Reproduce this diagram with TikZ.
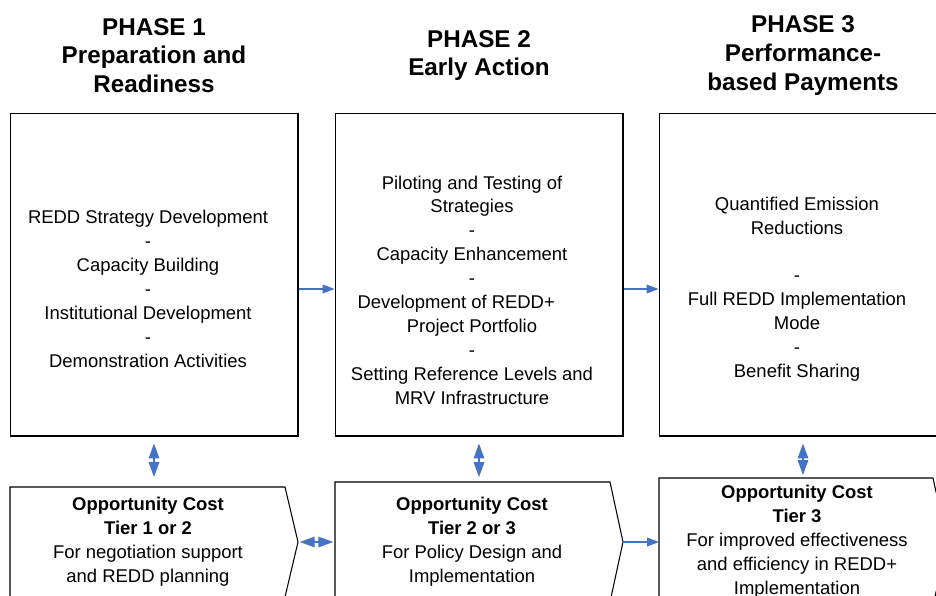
\documentclass[tikz,border=0pt]{standalone}
\usepackage{fontspec}
\setmainfont{Liberation Sans}
\usetikzlibrary{arrows.meta}
\definecolor{linkblue}{RGB}{68,114,196}

\begin{document}
\begin{tikzpicture}
[   x=0.02cm, y=-0.02cm,
    phase/.style={font=\bfseries\fontsize{13.8}{16.4}\selectfont,align=center},
    pbox/.style={draw=black,line width=0.6pt,minimum width=5.76cm,minimum height=6.46cm,inner sep=0pt},
    ptext/.style={font=\fontsize{10.5}{13.6}\selectfont,align=center},
    cbox/.style={draw=black,line width=0.6pt},
    link/.style={draw=linkblue,line width=0.6pt,-{Triangle[length=6.8pt,width=5pt]}},
    dlink/.style={draw=linkblue,line width=0.8pt,{Triangle[length=8.5pt,width=6pt]}-{Triangle[length=8.5pt,width=6pt]}},
]
    \useasboundingbox (0,0) rectangle (936,595);
    \clip (0,0) rectangle (936,595);
    %
    \node[phase] (h1) at (154,55.5) {PHASE 1\\Preparation and\\Readiness};
    \node[phase] (h2) at (479,55.5) {PHASE 2\\Early Action};
    \node[phase] (h3) at (803,55.5) {PHASE 3\\Performance-\\based Payments};

    \node[pbox] (p1) at (154,274.5) {};
    \node[pbox] (p2) at (479,274.5) {};
    \node[pbox] (p3) at (803,274.5) {};

    \node[ptext] (t1) at (148,289) {REDD Strategy Development\\-\\Capacity Building\\-\\Institutional Development\\-\\Demonstration Activities};
    \node[ptext] (t2) at (472,290) {Piloting and Testing of\\Strategies\\-\\Capacity Enhancement\\-\\Development of REDD+\hspace*{18pt}\mbox{}\\Project Portfolio\\-\\Setting Reference Levels and\\MRV Infrastructure};
    \node[ptext] (t3) at (797,289) {Quantified Emission\\Reductions\\[13.6pt]-\\Full REDD Implementation\\Mode\\-\\Benefit Sharing};

    % opportunity cost boxes
    \draw[cbox] (10,487) -- (285,487) -- (298,542) coordinate (c1tip) -- (285,597) -- (10,597) -- cycle;
    \draw[cbox] (335,482) -- (610,482) -- (623,542) coordinate (c2tip) -- (610,602) -- (335,602) -- cycle;
    \draw[cbox] (659,478) -- (933,478) -- (947,542) coordinate (c3tip) -- (933,606) -- (659,606) -- cycle;
    \coordinate (c1top) at (154,487);
    \coordinate (c2top) at (479,482);
    \coordinate (c3top) at (803,478);
    \coordinate (c2west) at (335,542);
    \coordinate (c3west) at (659,542);

    \node[ptext] (b1) at (148,541.5) {\textbf{Opportunity Cost}\\\textbf{Tier 1 or 2}\\For negotiation support\\and REDD planning};
    \node[ptext] (b2) at (472,541.5) {\textbf{Opportunity Cost}\\\textbf{Tier 2 or 3}\\For Policy Design and\\Implementation};
    \node[ptext] (b3) at (797,541.5) {\textbf{Opportunity Cost}\\\textbf{Tier 3}\\For improved effectiveness\\and efficiency in REDD+\\Implementation};

    % connectors
    \draw[link] (t1 -| p1.east) -- (t1 -| p2.west);
    \draw[link] (t3 -| p2.east) -- (t3 -| p3.west);
    \foreach \i/\s in {1/5.7pt,2/2.8pt,3/1.7pt}
    {
        \draw[dlink,shorten <=4pt,shorten >=\s] (p\i.south) -- (c\i top);
    }
    \draw[dlink,shorten <=1pt,shorten >=1pt] (c1tip) -- (c2west);
    \draw[link] (c2tip) -- (c3west);
\end{tikzpicture}
\end{document}
